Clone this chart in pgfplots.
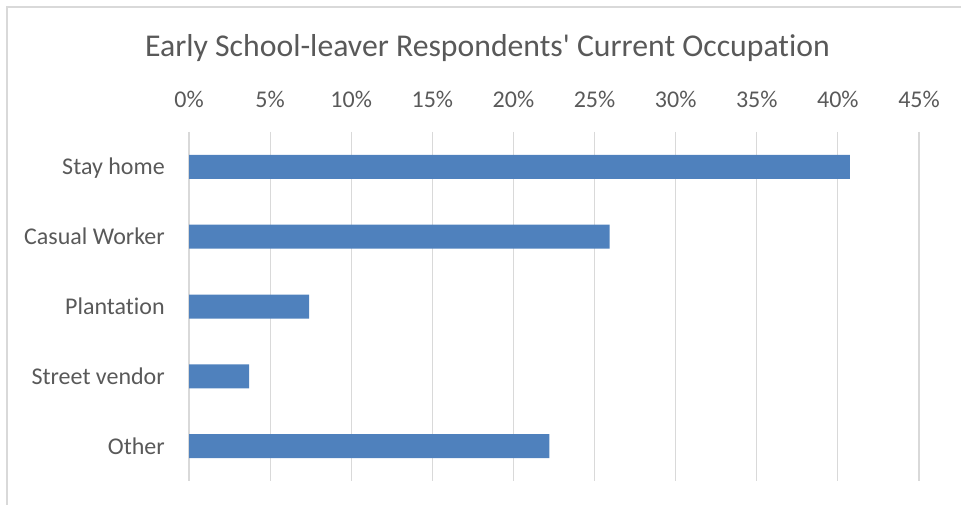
\documentclass[border=0pt]{standalone}
\usepackage{pgfplots}
\pgfplotsset{compat=1.18}
\usepackage{fontspec}
\setmainfont{Carlito}[Ligatures={NoCommon,TeXOff}]
\definecolor{barblue}{HTML}{4F81BD}
\definecolor{txtgray}{HTML}{595959}
\definecolor{gridgray}{HTML}{D9D9D9}
\begin{document}
\begin{tikzpicture}
\useasboundingbox (0,0) rectangle (720.75pt,-378.75pt);
\draw[gridgray, line width=0.9pt] (5.25pt,-378.75pt) -- (5.25pt,-5.25pt) -- (720.75pt,-5.25pt);
\node[anchor=base, text=txtgray, font=\fontsize{23.8}{28}\selectfont, inner sep=0pt] at (365.6pt,-42.75pt) {Early School-leaver Respondents' Current Occupation};
\begin{axis}[
  at={(141.75pt,-360.75pt)}, anchor=south west,
  scale only axis, width=547.5pt, height=261.75pt,
  xbar, bar width=18pt,
  xmin=0, xmax=45, ymin=-0.5, ymax=4.5,
  y dir=reverse,
  xtick={0,5,...,45},
  xticklabels={0\%,5\%,10\%,15\%,20\%,25\%,30\%,35\%,40\%,45\%},
  ytick={0,1,2,3,4},
  yticklabels={Stay home,Casual Worker,Plantation,Street vendor,Other},
  xticklabel pos=upper,
  axis line style={draw=none},
  major tick length=0pt,
  xmajorgrids, ymajorgrids=false,
  major grid style={draw=gridgray, line width=0.9pt},
  xticklabel style={anchor=base, inner sep=0pt, yshift=18pt, text=txtgray, font=\fontsize{18}{22}\selectfont},
  yticklabel style={anchor=base east, inner sep=0pt, xshift=-18pt, yshift=-6pt, text=txtgray, font=\fontsize{18}{22}\selectfont},
  clip=false,
]
\addplot[fill=barblue, draw=none] coordinates {
  (40.74,0) (25.93,1) (7.41,2) (3.70,3) (22.22,4)
};
\end{axis}
\end{tikzpicture}
\end{document}
